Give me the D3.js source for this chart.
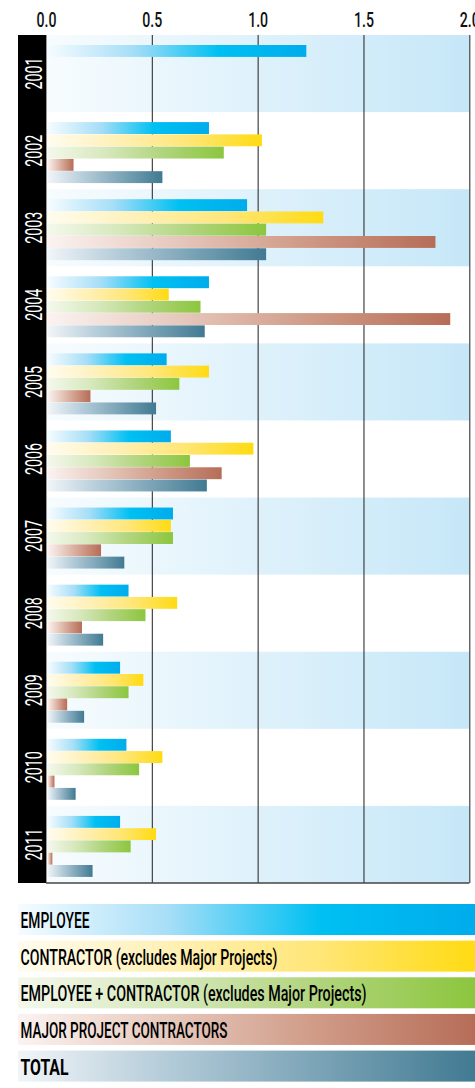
<!DOCTYPE html>
<html>
<head>
<meta charset="utf-8">
<script src="https://cdn.jsdelivr.net/npm/d3@7"></script>
<style>
	body { margin: 0; background: #fff; }
	svg { display: block; }
</style>
</head>
<body>
<div id="my_dataviz"></div>
<script>
// data
const years = ["2001", "2002", "2003", "2004", "2005", "2006", "2007", "2008", "2009", "2010", "2011"];
const seriesKeys = ["employee", "contractor", "combined", "major", "total"];
const seriesLabels = [
	"EMPLOYEE",
	"CONTRACTOR (excludes Major Projects)",
	"EMPLOYEE + CONTRACTOR (excludes Major Projects)",
	"MAJOR PROJECT CONTRACTORS",
	"TOTAL",
];
const employee = [1.23, 0.77, 0.95, 0.77, 0.57, 0.59, 0.60, 0.39, 0.35, 0.38, 0.35];
const contractor = [null, 1.02, 1.31, 0.58, 0.77, 0.98, 0.59, 0.62, 0.46, 0.55, 0.52];
const combined = [null, 0.84, 1.04, 0.73, 0.63, 0.68, 0.60, 0.47, 0.39, 0.44, 0.40];
const major = [null, 0.13, 1.84, 1.91, 0.21, 0.83, 0.26, 0.17, 0.10, 0.04, 0.03];
const total = [null, 0.55, 1.04, 0.75, 0.52, 0.76, 0.37, 0.27, 0.18, 0.14, 0.22];
const xTicks = [0, 0.5, 1.0, 1.5, 2.0];

// gradient stops for each series (left -> right)
const gradStops = {
	employee: ["#f6fcff", "#a6def7", "#00c0f2", "#00acec"],
	contractor: ["#fffcef", "#fff0b6", "#ffe677", "#ffdb12"],
	combined: ["#f4f8ec", "#d6e8bc", "#b0d47c", "#8cc63e"],
	major: ["#fbf3f1", "#e6c8bc", "#cf9a86", "#b66d58"],
	total: ["#f1f5f8", "#b3cbd8", "#7aa3b6", "#417a92"],
};

const fontFam = "Roboto, 'DejaVu Sans Condensed', sans-serif";

function main() {
	const W = 475, H = 1088;
	const plot = { top: 35, bottom: 883, left: 46, right: 469.3 };
	const seriesData = { employee, contractor, combined, major, total };

	const svg = d3
		.select("#my_dataviz")
		.append("svg")
		.attr("width", W)
		.attr("height", H);

	const defs = svg.append("defs");
	seriesKeys.forEach((k) => {
		const g = defs.append("linearGradient").attr("id", "grad-" + k);
		gradStops[k].forEach((c, i) => {
			g.append("stop")
				.attr("offset", [0, 0.33, 0.66, 1][i])
				.attr("stop-color", c);
		});
	});
	const bandGrad = defs
		.append("linearGradient")
		.attr("id", "grad-band")
		.attr("gradientUnits", "userSpaceOnUse")
		.attr("x1", plot.left)
		.attr("x2", plot.right)
		.attr("y1", 0)
		.attr("y2", 0);
	bandGrad.append("stop").attr("offset", 0).attr("stop-color", "#f7fcfe");
	bandGrad.append("stop").attr("offset", 1).attr("stop-color", "#c6e7f8");

	// scales
	const x = d3.scaleLinear().domain([0, 2]).range([plot.left, plot.right]);
	const y = d3
		.scaleBand()
		.domain(years)
		.range([plot.top, plot.bottom]);
	const yInner = d3
		.scaleBand()
		.domain(seriesKeys)
		.range([10, 71])
		.paddingInner(0.03);

	// alternating shaded bands
	svg.append("g")
		.selectAll("rect")
		.data(years.filter((d, i) => i % 2 === 0))
		.join("rect")
		.attr("x", plot.left)
		.attr("y", (d) => y(d))
		.attr("width", plot.right - plot.left)
		.attr("height", y.bandwidth())
		.attr("fill", "url(#grad-band)");

	// grid lines
	const grid = svg
		.append("g")
		.attr("transform", `translate(0,${plot.bottom})`)
		.call(
			d3.axisBottom(x)
				.tickValues(xTicks.slice(1))
				.tickSize(-(plot.bottom - plot.top))
				.tickFormat("")
		);
	grid.select(".domain").remove();
	grid.selectAll("line").attr("stroke", "#333").attr("stroke-width", 1.1);

	// left + bottom axis lines
	svg.append("line")
		.attr("x1", plot.left)
		.attr("x2", plot.left)
		.attr("y1", plot.top)
		.attr("y2", plot.bottom)
		.attr("stroke", "#555")
		.attr("stroke-width", 1.2);
	svg.append("line")
		.attr("x1", plot.left)
		.attr("x2", plot.right)
		.attr("y1", plot.bottom)
		.attr("y2", plot.bottom)
		.attr("stroke", "#444")
		.attr("stroke-width", 1.5);

	// bars
	const rows = [];
	years.forEach((yr, i) => {
		seriesKeys.forEach((k) => {
			const v = seriesData[k][i];
			if (v != null) rows.push({ year: yr, key: k, value: v });
		});
	});
	svg.append("g")
		.selectAll("rect")
		.data(rows)
		.join("rect")
		.attr("x", x(0) + 1.5)
		.attr("y", (d) => y(d.year) + yInner(d.key))
		.attr("width", (d) => x(d.value) - x(0) - 1.5)
		.attr("height", yInner.bandwidth())
		.attr("fill", (d) => `url(#grad-${d.key})`);

	// black year strip
	svg.append("rect")
		.attr("x", 18)
		.attr("y", plot.top)
		.attr("width", plot.left - 18)
		.attr("height", plot.bottom - plot.top)
		.attr("fill", "#000");
	svg.append("g")
		.selectAll("text")
		.data(years)
		.join("text")
		.attr("transform", (d) => `translate(42,${y(d) + y.bandwidth() / 2}) rotate(-90)`)
		.attr("text-anchor", "middle")
		.attr("fill", "#fff")
		.attr("font-family", fontFam)
		.attr("font-weight", 400)
		.attr("font-size", 23)
		.attr("textLength", 32)
		.attr("lengthAdjust", "spacingAndGlyphs")
		.text((d) => d);

	// top tick labels
	const top = svg
		.append("g")
		.attr("transform", "translate(0,27)")
		.call(
			d3.axisTop(x)
				.tickValues(xTicks)
				.tickFormat(d3.format(".1f"))
				.tickSize(0)
				.tickPadding(0)
		);
	top.select(".domain").remove();
	top.selectAll("text")
		.attr("fill", "#111")
		.attr("font-family", fontFam)
		.attr("font-weight", 500)
		.attr("font-size", 21)
		.attr("textLength", 20)
		.attr("lengthAdjust", "spacingAndGlyphs");

	// legend
	const legY = d3
		.scaleBand()
		.domain(seriesKeys)
		.range([904, 1081.6])
		.paddingInner(0.153);
	const textLens = [69, 257, 346, 207, 48];
	const leg = svg
		.append("g")
		.selectAll("g")
		.data(seriesKeys)
		.join("g")
		.attr("transform", (d) => `translate(18,${legY(d)})`);
	leg.append("rect")
		.attr("width", W - 18)
		.attr("height", legY.bandwidth())
		.attr("fill", (d) => `url(#grad-${d})`);
	leg.append("text")
		.attr("x", 2.5)
		.attr("y", 24)
		.attr("fill", "#000")
		.attr("font-family", fontFam)
		.attr("font-size", 22)
		.attr("font-weight", (d) => (d === "total" ? "bold" : 500))
		.attr("textLength", (d, i) => textLens[i])
		.attr("lengthAdjust", "spacingAndGlyphs")
		.text((d, i) => seriesLabels[i]);
}

main();
</script>
</body>
</html>
